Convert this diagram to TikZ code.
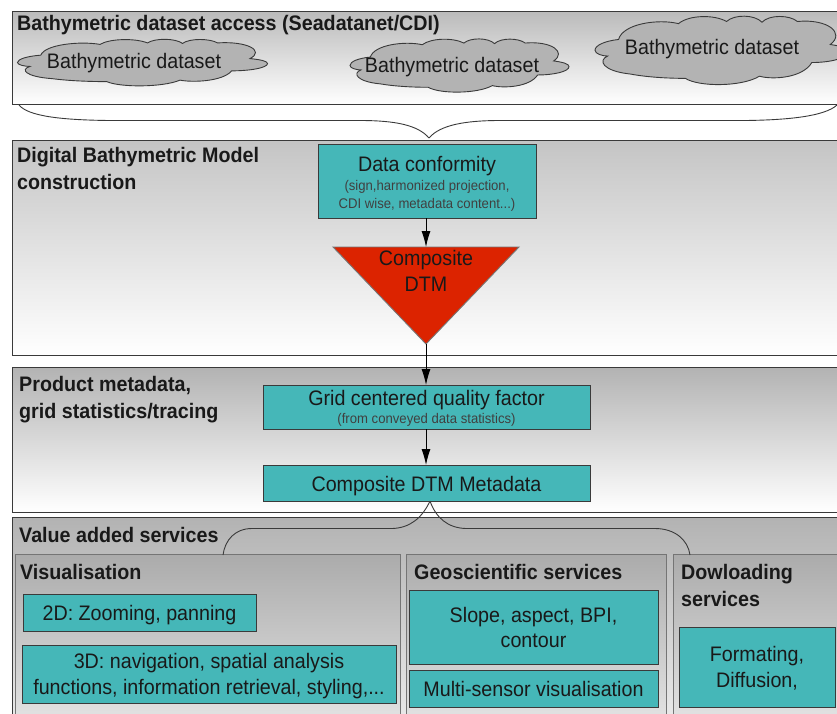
\documentclass[tikz,border=0pt]{standalone}
\usepackage{fontspec}
\setmainfont[FakeStretch=0.938]{Liberation Sans}
\usetikzlibrary{arrows.meta,
    positioning,
    shapes.geometric}

\definecolor{tealbox}{HTML}{45B7B8}
\definecolor{dtmred}{HTML}{DC2300}
\definecolor{cloudgray}{HTML}{B3B3B3}
\definecolor{edgegray}{HTML}{3A3A3A}

\newcommand{\subnote}{\fontsize{14}{17}\selectfont\color{black!75}}
\newcommand{\nudge}[1]{\rule{0pt}{#1pt}}

\tikzset{
    panel/.style={draw=edgegray,line width=0.9pt,anchor=north west,outer sep=0pt,inner sep=0pt,
        top color=#1,bottom color=white},
    subpanel/.style={draw=edgegray!70,line width=0.9pt,anchor=north west,outer sep=0pt,inner sep=0pt,
        top color=black!33,bottom color=white},
    tealnode/.style={draw=edgegray,line width=0.9pt,fill=tealbox,anchor=north west,outer sep=0pt,inner sep=0pt,
        align=center,text=black!90,font=\fontsize{21}{25}\selectfont},
    heading/.style={anchor=west,inner sep=0pt,align=left,font=\fontsize{21}{27}\selectfont\bfseries,text=black!90},
    cloudtext/.style={inner sep=0pt,font=\fontsize{21}{25}\selectfont,text=black!90},
    flow/.style={draw=black,line width=0.9pt,-{Latex[length=16pt,width=9pt]}},
    curly/.style={draw=edgegray,line width=0.9pt},
    bathycloud/.pic={
        \draw[draw=edgegray,line width=0.9pt,fill=cloudgray] (9.3,34) .. controls (4,36) and (0,42) .. (0,49)
            .. controls (0,54) and (3,57) .. (5,57)
            .. controls (1,63) and (3,78) .. (14,82)
            .. controls (20,86) and (28,88) .. (35.7,88)
            .. controls (41,100) and (58,100) .. (65,85)
            .. controls (70,90) and (82,88) .. (85.7,66)
            .. controls (93,66) and (100,60) .. (100,51)
            .. controls (100,46) and (97,43) .. (93,41)
            .. controls (99,25) and (92,5) .. (80,9)
            .. controls (77,0) and (69,-1) .. (66,10)
            .. controls (63,-1) and (55,-1) .. (52,9)
            .. controls (47,-1) and (37,0) .. (33,12)
            .. controls (25,5) and (11,12) .. (9.3,34) -- cycle;
    }
}

\begin{document}
\begin{tikzpicture}[x=1pt,y=-1pt]
    \clip (0,0) rectangle (837,713);

    % panels
    \node[panel=black!27,minimum width=845,minimum height=93] (access) at (12,11) {};
    \node[panel=black!23,minimum width=845,minimum height=215] (model) at (12,140) {};
    \node[panel=black!30,minimum width=845,minimum height=145] (product) at (12,367) {};
    \node[panel=black!30,minimum width=845,minimum height=280] (services) at (12,517) {};
    \node[subpanel,minimum width=385,minimum height=250] (visual) at (15,554) {};
    \node[subpanel,minimum width=260,minimum height=250] (geosci) at (406,554) {};
    \node[subpanel,minimum width=180,minimum height=250] (download) at (673,554) {};

    \node[heading] (accesstitle) at (17,25) {Bathymetric dataset access (Seadatanet/CDI)};
    \node[heading] (modeltitle) at (17,168) {Digital Bathymetric Model\\construction};
    \node[heading] (producttitle) at (19,400) {Product metadata,\\grid statistics/tracing};
    \node[heading] (servicestitle) at (19,535) {Value added services};
    \node[heading] (visualtitle) at (20,572) {Visualisation};
    \node[heading] (geoscititle) at (414,572) {Geoscientific services};
    \node[heading] (downloadtitle) at (681,585) {Dowloading\\services};

    % clouds
    \pic[xscale=2.5,yscale=0.49] (cloudA) at (17.5,38.5) {bathycloud};
    \pic[xscale=2.19,yscale=0.56] (cloudB) at (350,38) {bathycloud};
    \pic[xscale=2.53,yscale=0.72] (cloudC) at (595,15) {bathycloud};
    \node[cloudtext] (cloudtextA) at (134,63.5) {Bathymetric dataset};
    \node[cloudtext] (cloudtextB) at (452,67.5) {Bathymetric dataset};
    \node[cloudtext] (cloudtextC) at (712,49) {Bathymetric dataset};

    % boxes
    \node[tealnode,minimum width=218,minimum height=74] (conform) at (318,144)
        {\nudge{20}Data conformity\\[-6pt]{\subnote (sign,harmonized projection,}\\[-7pt]{\subnote CDI wise, metadata content...)}};
    \node[draw=edgegray!70,line width=0.9pt,fill=dtmred,isosceles triangle,isosceles triangle stretches,
        shape border rotate=270,minimum width=186,minimum height=97,inner sep=0pt,outer sep=0pt,anchor=apex] (dtm) at (426,344) {};
    \node[inner sep=0pt,align=center,text=black!90,font=\fontsize{21}{26}\selectfont] (dtmtext) at (426,271) {Composite\\DTM};
    \node[tealnode,minimum width=327,minimum height=44] (quality) at (263,385)
        {\nudge{18}Grid centered quality factor\\[-7pt]{\subnote (from conveyed data statistics)}};
    \node[tealnode,minimum width=327,minimum height=36] (metadata) at (263,465) {\nudge{21}Composite DTM Metadata};
    \node[tealnode,minimum width=233,minimum height=37] (zoom2d) at (23,594) {\nudge{21}2D: Zooming, panning};
    \node[tealnode,minimum width=374,minimum height=58] (nav3d) at (22,645)
        {\nudge{20}3D: navigation, spatial analysis\\[1pt]functions, information retrieval, styling,...};
    \node[tealnode,minimum width=249,minimum height=74] (slope) at (409,590) {Slope, aspect, BPI,\\contour};
    \node[tealnode,minimum width=249,minimum height=37] (multi) at (409,670) {Multi-sensor visualisation};
    \node[tealnode,minimum width=156,minimum height=80] (format) at (679,627) {\nudge{18}Formating,\\[1pt]Diffusion,};

    % arrows
    \draw[flow] (conform.south -| dtm.apex) -- (dtm.north -| dtm.apex);
    \draw[flow] (dtm.apex) -- (quality.north -| dtm.apex);
    \draw[flow] (quality.south -| dtm.apex) -- (metadata.north -| dtm.apex);

    % braces
    \coordinate (accessleft) at (19,105);
    \coordinate (accessright) at (837,105);
    \coordinate (modeltip) at (429,138);
    \coordinate (servicestip) at (430,501);
    \coordinate (visualend) at (223,555);
    \coordinate (downloadend) at (690,555);
    \draw[curly] (accessleft) .. controls (28,116) and (60,120) .. (110,120.5) -- (360,120.5)
        .. controls (395,120.5) and (418,125) .. (modeltip);
    \draw[curly] (accessright) .. controls (825,116) and (790,120) .. (745,120.5) -- (500,120.5)
        .. controls (465,120.5) and (440,125) .. (modeltip);
    \draw[curly] (servicestip) .. controls (422,518) and (410,528) .. (392,528.5) -- (252,528.5)
        .. controls (235,528.5) and (225,540) .. (visualend);
    \draw[curly] (servicestip) .. controls (436,518) and (448,528) .. (466,528.5) -- (655,528.5)
        .. controls (675,528.5) and (688,540) .. (downloadend);
\end{tikzpicture}
\end{document}
